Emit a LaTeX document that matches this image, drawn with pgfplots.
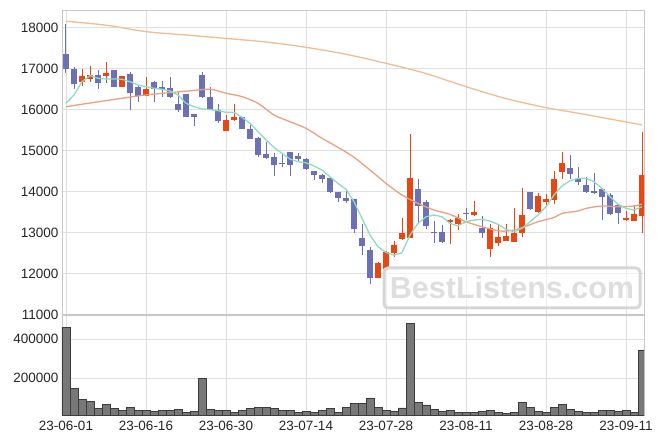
\documentclass[border=0pt]{standalone}
\usepackage{pgfplots}
\pgfplotsset{compat=1.18}
\usepackage{pgfplotstable}
\usepackage{fontspec}
\setmainfont{Liberation Sans}
\definecolor{cblue}{RGB}{108,112,180}
\definecolor{cred}{RGB}{232,70,18}
\definecolor{cgreen}{RGB}{140,220,190}
\definecolor{cma20}{RGB}{236,160,128}
\definecolor{cma60}{RGB}{240,188,145}
\definecolor{cgrid}{RGB}{224,224,224}
\definecolor{cframe}{RGB}{200,200,200}
\definecolor{cvol}{RGB}{120,120,120}
\definecolor{cvoldk}{RGB}{60,60,60}

\pgfplotstableread{
k o h l c
2 16680 17000 16580 16820
3 16750 17060 16680 16850
5 16830 17170 16660 16900
7 16560 16830 16560 16820
10 16330 16800 16330 16500
20 15490 15870 15490 15750
21 15740 16130 15730 15810
39 11900 12280 11900 12250
40 12120 12560 12120 12520
41 12510 12800 12400 12700
42 12850 13350 12820 13000
43 12880 15400 12880 14330
48 13270 13330 12720 13310
49 13220 13450 13060 13350
51 13430 13770 13410 13510
53 12600 13200 12410 13120
54 12760 13190 12670 12890
55 12800 13200 12800 12920
56 12780 13610 12780 13000
57 13000 14080 12900 13430
59 13510 13960 13470 13890
60 13750 13940 13670 13820
61 13800 14500 13710 14310
62 14490 14960 14300 14700
70 13340 13530 13290 13350
71 13290 13670 13290 13450
72 13410 15450 13000 14400
}\redtab

\pgfplotstableread{
k o h l c
0 17350 18080 16890 17000
1 16980 17050 16500 16620
4 16850 16970 16500 16650
6 16960 16970 16550 16560
8 16880 16930 15990 16400
9 16550 16600 16190 16340
11 16680 16690 16180 16500
12 16540 16710 16300 16530
13 16520 16790 16290 16300
14 16140 16440 15950 15980
15 16380 16390 15810 15820
16 15890 15900 15600 15820
17 16850 16930 16280 16300
18 16300 16560 15990 16000
19 16000 16130 15680 15730
22 15810 15830 15530 15530
23 15540 15630 15280 15290
24 15300 15330 14850 14900
25 14920 15220 14800 14830
26 14840 14940 14390 14650
27 14700 14950 14590 14690
28 14960 14960 14380 14640
29 14870 14950 14730 14800
30 14790 14810 14530 14550
31 14500 14500 14280 14410
32 14400 14420 14200 14310
33 14340 14340 13960 13990
34 14000 14000 13750 13840
35 13850 14040 13720 13780
36 13820 13820 12980 13100
37 12870 13200 12450 12680
38 12580 12640 11760 11900
44 14060 14300 13230 13660
45 13750 13800 13100 13170
46 13010 13290 12740 13000
47 13010 13190 12740 12780
50 13490 13590 13310 13450
52 13120 13410 12860 12980
58 13980 13990 13560 13570
63 14570 14890 14320 14420
64 14300 14590 14160 14240
65 14160 14350 13960 14000
66 14010 14450 13940 13960
67 14060 14060 13310 13880
68 13920 13970 13430 13450
69 13670 13670 13210 13470
}\bluetab

\pgfplotstableread{
k v
0 461000
1 150000
2 92000
3 82000
4 46000
5 67000
6 46000
7 36000
8 51000
9 36000
10 36000
11 31000
12 36000
13 36000
14 41000
15 26000
16 31000
17 200000
18 41000
19 36000
20 36000
21 26000
22 36000
23 46000
24 51000
25 51000
26 46000
27 36000
28 36000
29 26000
30 31000
31 26000
32 36000
33 46000
34 26000
35 51000
36 72000
37 72000
38 100000
39 52000
40 37000
41 32000
42 48000
43 481000
44 77000
45 64000
46 42000
47 32000
48 37000
49 27000
50 27000
51 27000
52 32000
53 37000
54 27000
55 22000
56 27000
57 77000
58 49000
59 32000
60 27000
61 52000
62 67000
63 42000
64 32000
65 27000
66 27000
67 37000
68 37000
69 32000
70 37000
71 27000
72 346000
}\voltab

\pgfplotsset{
  panel/.style={
    scale only axis, width=582pt,
    xmin=-0.5, xmax=72.25,
    axis line style={cframe},
    grid=major, grid style={cgrid, line width=0.8pt},
    major tick length=0pt,
    xtick={0,10,20,30,40,50,60,70},
    tick label style={font=\fontsize{13.5}{16}\selectfont, text=black!85},
    scaled y ticks=false,
    clip=true,
  },
  candle/.style={only marks, mark=none, mark size=0pt,
    mark options={draw opacity=0, fill opacity=0},
    error bars/.cd, y dir=both, y explicit, error mark=none},
}

\begin{document}
\begin{tikzpicture}
\useasboundingbox (0pt,0pt) rectangle (663pt,444pt);
\begin{axis}[panel, at={(62pt,129.3pt)}, anchor=south west, height=304.7pt,
  ymin=11000, ymax=18430,
  ytick={11000,12000,13000,14000,15000,16000,17000,18000},
  yticklabels={11000,12000,13000,14000,15000,16000,17000,18000},
  xticklabels={}]
% wicks
\addplot[cred, candle, error bar style={line width=1pt, cred}]
  table[x=k, y expr={(\thisrow{h}+\thisrow{l})/2}, y error expr={(\thisrow{h}-\thisrow{l})/2}] {\redtab};
\addplot[cblue, candle, error bar style={line width=1pt, cblue}]
  table[x=k, y expr={(\thisrow{h}+\thisrow{l})/2}, y error expr={(\thisrow{h}-\thisrow{l})/2}] {\bluetab};
% bodies
\addplot[cred, candle, error bar style={line width=6.4pt, cred}]
  table[x=k, y expr={(\thisrow{o}+\thisrow{c})/2}, y error expr={max(abs(\thisrow{o}-\thisrow{c})/2,15)}] {\redtab};
\addplot[cblue, candle, error bar style={line width=6.4pt, cblue}]
  table[x=k, y expr={(\thisrow{o}+\thisrow{c})/2}, y error expr={max(abs(\thisrow{o}-\thisrow{c})/2,15)}] {\bluetab};
% long moving average
\addplot[cma60, line width=1.3pt, smooth, mark=none] coordinates {
(0,18155) (5,18060) (10,17902) (15,17820) (18,17770) (25,17650) (30,17520) (35,17350)
(40,17130) (45,16880) (50,16560) (55,16270) (60,16050) (65,15880) (70,15700) (72,15630)};
% 20-day moving average
\addplot[cma20, line width=1.3pt, smooth, mark=none] coordinates {
(0,16073) (5,16220) (10,16358) (15,16450) (18,16497) (20,16400) (22,16317) (24,16155)
(26,15870) (28,15706) (30,15545) (32,15301) (34,15082) (36,14838) (38,14528) (40,14203)
(42,13918) (44,13715) (46,13552) (48,13447) (50,13267) (52,13145) (54,13047) (55,13039)
(56,13064) (57,13120) (59,13267) (61,13370) (62,13471) (64,13528) (65,13593) (67,13650)
(69,13633) (71,13650) (72,13698)};
% 5-day moving average
\addplot[cgreen, line width=1.3pt, mark=none] coordinates {
(0,16155) (1,16358) (2,16682) (3,16829) (4,16765) (5,16748) (6,16748) (7,16741) (8,16682)
(9,16602) (10,16560) (11,16521) (12,16497) (13,16456) (14,16358) (15,16155) (16,16073)
(17,16016) (18,16000) (19,15975) (20,15936) (21,15936) (22,15814) (23,15667) (24,15462)
(25,15260) (26,15082) (27,14935) (28,14796) (29,14730) (30,14706) (31,14626) (32,14528)
(33,14364) (34,14200) (35,14060) (36,13754) (37,13349) (38,12942) (39,12656) (40,12520)
(41,12454) (42,12510) (43,12942) (44,13227) (45,13388) (46,13430) (47,13388) (48,13227)
(49,13165) (50,13267) (51,13308) (52,13325) (53,13284) (54,13203) (55,13081) (56,13023)
(57,13105) (58,13267) (59,13430) (60,13633) (61,13918) (62,14138) (63,14267) (64,14325)
(65,14325) (66,14243) (67,14081) (68,13877) (69,13691) (70,13593) (71,13552) (72,13633)};
\end{axis}
% watermark
\node[draw=black!16, line width=3pt, rounded corners=4pt, fill=white, fill opacity=0.5, text opacity=1,
      minimum width=256pt, minimum height=40pt, inner sep=0pt,
      text=black!13, font=\bfseries\fontsize{30.5}{32}\selectfont] at (512pt,156pt) {BestListens.com};
\begin{axis}[panel, at={(62pt,29pt)}, anchor=south west, height=100.3pt,
  ymin=12000, ymax=526000,
  ytick={200000,400000}, yticklabels={200000,400000},
  xticklabel style={yshift=-2.5pt},
  xticklabels={23-06-01,23-06-16,23-06-30,23-07-14,23-07-28,23-08-11,23-08-28,23-09-11}]
\addplot[ybar, bar width=1, fill=cvol, draw=cvoldk, line width=0.6pt] table[x=k, y=v] {\voltab};
\end{axis}
\end{tikzpicture}
\end{document}
